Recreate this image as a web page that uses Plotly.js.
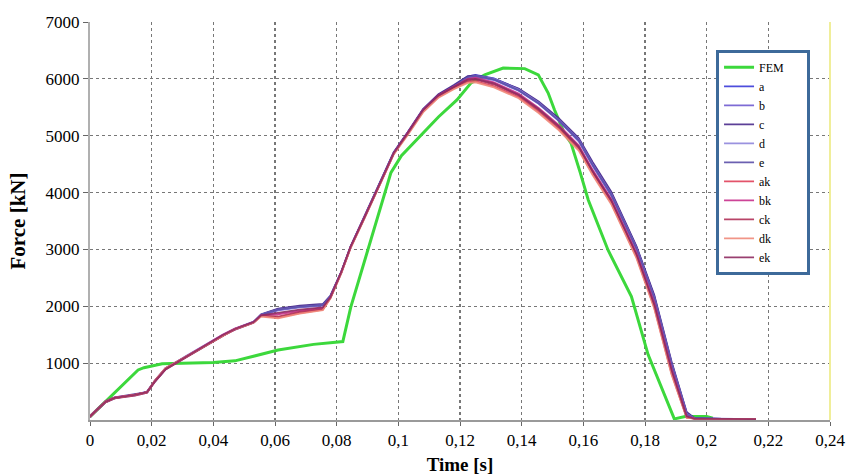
<!DOCTYPE html>
<html>
<head>
<meta charset="utf-8">
<script src="https://cdn.plot.ly/plotly-3.0.1.min.js"></script>
<style>html,body{margin:0;padding:0;background:#fff;}#chart{width:856px;height:475px;}</style>
</head>
<body>
<div id="chart"></div>
<script>
// FEM reference curve
const timeFEM = [0, 0.0156, 0.0175, 0.0234, 0.03, 0.04, 0.047, 0.052, 0.061, 0.0725, 0.082, 0.0846, 0.091, 0.0976, 0.101, 0.106, 0.113, 0.119, 0.1236, 0.128, 0.134, 0.141, 0.1454, 0.1486, 0.1506, 0.1538, 0.156, 0.159, 0.1616, 0.168, 0.1756, 0.181, 0.1895, 0.193, 0.2, 0.202];
const forceFEM = [60, 880, 920, 990, 1000, 1010, 1040, 1110, 1230, 1330, 1380, 1990, 3170, 4350, 4650, 4930, 5330, 5630, 5930, 6070, 6190, 6180, 6070, 5750, 5460, 5050, 4870, 4350, 3870, 2990, 2170, 1150, 20, 60, 60, 30];

// common time base of the ten variant curves
const time = [0, 0.002, 0.005, 0.008, 0.0145, 0.0185, 0.021, 0.0245, 0.031, 0.0375, 0.043, 0.047, 0.053, 0.0555, 0.061, 0.068, 0.0755, 0.078, 0.0815, 0.0845, 0.089, 0.0945, 0.0985, 0.103, 0.108, 0.113, 0.118, 0.1225, 0.125, 0.131, 0.139, 0.1455, 0.152, 0.1585, 0.163, 0.169, 0.1772, 0.183, 0.1886, 0.1935, 0.196, 0.205, 0.216];

const forceA  = [60,170,320,390,440,490,680,900,1110,1320,1490,1600,1720,1850,1950,2000,2030,2180,2600,3040,3570,4220,4700,5050,5460,5720,5880,6040,6070,6010,5820,5590,5290,4940,4520,4000,3050,2180,1010,130,30,20,15];
const forceB  = [50,160,310,380,440,500,690,910,1110,1320,1490,1590,1710,1840,1930,1980,2010,2170,2590,3030,3560,4210,4690,5040,5440,5700,5870,6010,6040,5980,5790,5560,5260,4900,4470,3950,3000,2120,950,100,30,20,15];
const forceC  = [70,180,330,400,450,490,670,890,1100,1310,1480,1600,1720,1860,1960,2010,2040,2190,2610,3050,3580,4230,4710,5060,5470,5730,5890,6050,6060,6000,5830,5600,5310,4960,4540,4020,3060,2200,1030,140,35,20,15];
const forceD  = [60,170,310,390,430,480,680,900,1120,1330,1500,1610,1730,1850,1940,1990,2020,2170,2600,3040,3570,4210,4690,5030,5440,5700,5860,6020,6050,6000,5810,5580,5280,4930,4500,3980,3030,2150,990,110,30,20,15];
const forceE  = [50,160,320,390,440,490,690,910,1110,1320,1490,1600,1720,1850,1940,1990,2020,2180,2600,3050,3570,4220,4700,5040,5450,5710,5870,6030,6050,5990,5800,5570,5270,4920,4490,3970,3020,2140,980,100,30,20,15];
const forceAK = [60,170,320,390,440,490,690,910,1110,1320,1490,1600,1710,1830,1800,1880,1940,2150,2590,3030,3550,4200,4680,5020,5420,5680,5830,5950,5960,5870,5680,5420,5120,4760,4330,3820,2870,1980,820,40,25,20,15];
const forceBK = [70,180,330,400,440,490,680,900,1110,1320,1500,1610,1720,1840,1860,1920,1970,2160,2600,3040,3560,4210,4690,5040,5450,5710,5870,6000,6020,5940,5740,5490,5190,4830,4400,3890,2940,2060,900,70,25,20,15];
const forceCK = [50,160,310,380,430,480,670,890,1100,1310,1480,1590,1710,1830,1820,1900,1950,2150,2590,3030,3550,4200,4680,5030,5430,5690,5850,5970,5990,5900,5710,5450,5150,4790,4360,3850,2900,2010,850,50,25,20,15];
const forceDK = [60,170,320,390,440,490,690,910,1110,1320,1490,1600,1710,1820,1790,1870,1930,2140,2580,3020,3540,4190,4670,5010,5410,5670,5820,5930,5940,5850,5660,5400,5100,4740,4310,3800,2850,1960,800,40,25,20,15];
const forceEK = [60,170,320,390,440,490,680,900,1110,1320,1490,1600,1720,1840,1880,1940,1980,2160,2600,3040,3560,4210,4690,5040,5450,5710,5860,5990,6000,5920,5720,5470,5170,4810,4380,3870,2920,2030,880,60,25,20,15];

const seriesNames = ['a','b','c','d','e','ak','bk','ck','dk','ek'];
const seriesForces = [forceA, forceB, forceC, forceD, forceE, forceAK, forceBK, forceCK, forceDK, forceEK];
const seriesColors = ['#3a3ad8','#6f5bd0','#4a2a8c','#8f86dc','#5b4fa8','#e0405a','#c8308c','#b03058','#f08a7a','#8e2a60'];

const xTickVals = [0,0.02,0.04,0.06,0.08,0.1,0.12,0.14,0.16,0.18,0.2,0.22,0.24];
const xTickText = ['0','0,02','0,04','0,06','0,08','0,1','0,12','0,14','0,16','0,18','0,2','0,22','0,24'];
const yTickVals = [1000,2000,3000,4000,5000,6000,7000];
const yTickText = ['1000','2000','3000','4000','5000','6000','7000'];

const traces = [{
  x: timeFEM, y: forceFEM, name: 'FEM\u00a0\u00a0\u00a0\u00a0\u00a0\u00a0', type: 'scatter', mode: 'lines',
  line: {color: '#3cd83c', width: 3}
}];
seriesNames.forEach((n, i) => {
  traces.push({x: time, y: seriesForces[i], name: n, type: 'scatter', mode: 'lines',
    line: {color: seriesColors[i], width: 1.8}, opacity: 0.9});
});

const serif = 'Liberation Serif';
const layout = {
  width: 856, height: 475,
  margin: {l: 90, r: 26, t: 22, b: 55},
  paper_bgcolor: '#fff', plot_bgcolor: '#fff',
  font: {family: serif, color: '#000', size: 17},
  showlegend: true,
  legend: {
    x: 0.846, y: 0.93, xanchor: 'left', yanchor: 'top',
    bordercolor: '#3d6a9a', borderwidth: 3, bgcolor: '#fff',
    font: {family: serif, size: 12, color: '#000'},
    tracegroupgap: 0, itemwidth: 30
  },
  xaxis: {
    range: [0, 0.24], tickmode: 'array', tickvals: xTickVals, ticktext: xTickText,
    showgrid: true, gridcolor: '#777', griddash: 'dot', gridwidth: 1.2,
    showline: true, linecolor: '#9a9a9a', linewidth: 2,
    ticks: 'outside', ticklen: 4, tickcolor: '#666',
    zeroline: false,
    tickfont: {family: serif, size: 17, color: '#000'},
    title: {text: '<b>Time [s]</b>', font: {family: serif, size: 19, color: '#000'}, standoff: 8}
  },
  yaxis: {
    range: [0, 7000], tickmode: 'array', tickvals: yTickVals, ticktext: yTickText,
    showgrid: true, gridcolor: '#777', griddash: 'dot', gridwidth: 1.2,
    showline: true, linecolor: '#b0b0b0', linewidth: 2,
    ticks: 'outside', ticklen: 5, tickcolor: '#666',
    zeroline: false,
    tickfont: {family: serif, size: 17, color: '#000'},
    title: {text: '<b>Force [kN]</b>', font: {family: serif, size: 21, color: '#000'}, standoff: 14}
  },
  shapes: [{type: 'line', xref: 'paper', yref: 'paper', x0: 1, x1: 1, y0: 0, y1: 1,
    line: {color: '#f0ee9a', width: 2}}]
};

Plotly.newPlot('chart', traces, layout, {displayModeBar: false, staticPlot: true});
</script>
</body>
</html>
